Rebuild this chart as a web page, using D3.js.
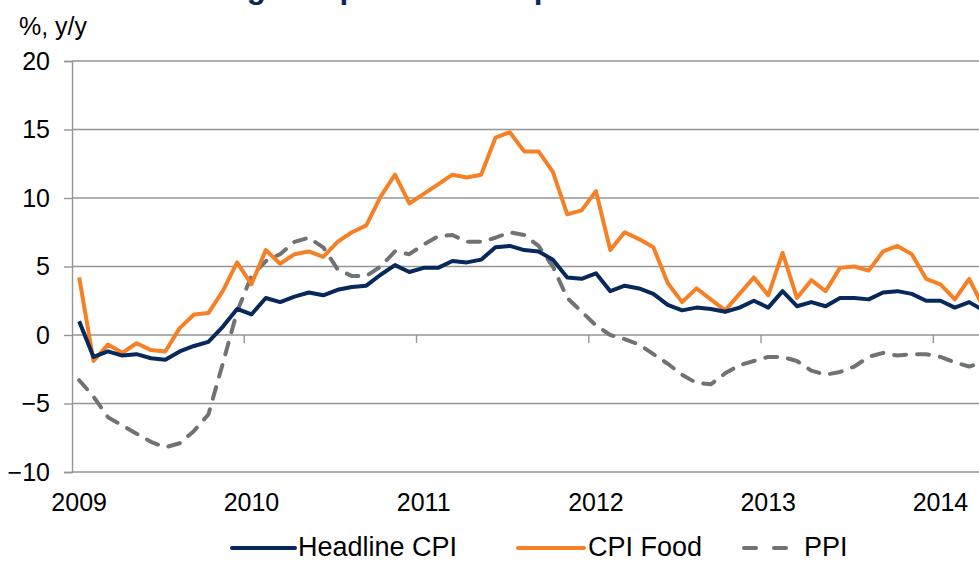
<!DOCTYPE html>
<html>
<head>
<meta charset="utf-8">
<script src="https://cdn.jsdelivr.net/npm/d3@7"></script>
<style>
  html, body { margin: 0; padding: 0; background: #fff; }
  svg { display: block; }
  text { font-family: "Liberation Sans", Arial, sans-serif; }
</style>
</head>
<body>
<div id="chart"></div>
<script>
// Monthly data, Jan 2009 .. Apr 2014 (% y/y)
const years = ['2009', '2010', '2011', '2012', '2013', '2014'];
const monthCount = 64;

const headlineCPI = [
  1.0, -1.6, -1.2, -1.5, -1.4, -1.7, -1.8, -1.2, -0.8, -0.5, 0.6, 1.9,
  1.5, 2.7, 2.4, 2.8, 3.1, 2.9, 3.3, 3.5, 3.6, 4.4, 5.1, 4.6,
  4.9, 4.9, 5.4, 5.3, 5.5, 6.4, 6.5, 6.2, 6.1, 5.5, 4.2, 4.1,
  4.5, 3.2, 3.6, 3.4, 3.0, 2.2, 1.8, 2.0, 1.9, 1.7, 2.0, 2.5,
  2.0, 3.2, 2.1, 2.4, 2.1, 2.7, 2.7, 2.6, 3.1, 3.2, 3.0, 2.5,
  2.5, 2.0, 2.4, 1.8
];

const cpiFood = [
  4.2, -1.9, -0.7, -1.3, -0.6, -1.1, -1.2, 0.5, 1.5, 1.6, 3.2, 5.3,
  3.7, 6.2, 5.2, 5.9, 6.1, 5.7, 6.8, 7.5, 8.0, 10.1, 11.7, 9.6,
  10.3, 11.0, 11.7, 11.5, 11.7, 14.4, 14.8, 13.4, 13.4, 11.9, 8.8, 9.1,
  10.5, 6.2, 7.5, 7.0, 6.4, 3.8, 2.4, 3.4, 2.6, 1.8, 3.0, 4.2,
  2.9, 6.0, 2.7, 4.0, 3.2, 4.9, 5.0, 4.7, 6.1, 6.5, 5.9, 4.1,
  3.7, 2.6, 4.1, 2.0
];

const ppi = [
  -3.3, -4.5, -6.0, -6.6, -7.2, -7.8, -8.2, -7.9, -7.0, -5.8, -2.1, 1.7,
  4.3, 5.4, 5.9, 6.8, 7.1, 6.4, 4.8, 4.3, 4.3, 5.0, 6.1, 5.9,
  6.6, 7.2, 7.3, 6.8, 6.8, 7.1, 7.5, 7.3, 6.5, 5.0, 2.7, 1.7,
  0.7, 0.0, -0.3, -0.7, -1.4, -2.1, -2.9, -3.5, -3.6, -2.8, -2.2, -1.9,
  -1.6, -1.6, -1.9, -2.6, -2.9, -2.7, -2.3, -1.6, -1.3, -1.5, -1.4, -1.4,
  -1.6, -2.0, -2.3, -2.0
];

const yTicks = [-10, -5, 0, 5, 10, 15, 20];

const seriesList = [
  { name: 'Headline CPI', values: headlineCPI, color: '#06285a', dash: null },
  { name: 'CPI Food', values: cpiFood, color: '#f58025', dash: null },
  { name: 'PPI', values: ppi, color: '#707374', dash: '12,11' }
];

const width = 979, height = 561;
const margin = { left: 72, top: 61, bottom: 472 };
const monthWidth = 14.355;
const labelFont = '25px';

const svg = d3.select('#chart').append('svg')
  .attr('width', width)
  .attr('height', height);

// one band per month, Excel style
const months = d3.range(monthCount);
const x = d3.scaleBand()
  .domain(months)
  .range([margin.left, margin.left + monthCount * monthWidth])
  .padding(0);

const y = d3.scaleLinear()
  .domain([-10, 20])
  .range([margin.bottom, margin.top]);

const gridColor = '#959595';

// Title, cut by the top edge: only descenders show
svg.append('text')
  .attr('x', 14)
  .attr('y', -2)
  .attr('fill', '#0b2a5a')
  .style('font-weight', 'bold')
  .style('font-size', '31.5px')
  .text('Inflation is rising and prices at the producer level fall');

// unit label
svg.append('text')
  .attr('x', 19)
  .attr('y', 35)
  .style('font-size', labelFont)
  .attr('fill', '#000')
  .text('%, y/y');

// horizontal gridlines
svg.append('g')
  .selectAll('line')
  .data(yTicks)
  .join('line')
  .attr('x1', margin.left)
  .attr('x2', width + 20)
  .attr('y1', d => y(d))
  .attr('y2', d => y(d))
  .attr('stroke', gridColor)
  .attr('stroke-width', 1.4);

// y axis
const yAxis = svg.append('g')
  .attr('transform', `translate(${margin.left},0)`)
  .call(d3.axisLeft(y).tickValues(yTicks).tickSize(8).tickPadding(14));
yAxis.select('.domain').attr('stroke', gridColor).attr('stroke-width', 1.4);
yAxis.selectAll('.tick line').attr('stroke', gridColor).attr('stroke-width', 1.4);
yAxis.selectAll('.tick text')
  .style('font-size', labelFont)
  .style('font-family', '"Liberation Sans", Arial, sans-serif')
  .attr('fill', '#000');

// x axis on the zero line, ticks at year boundaries
const yearStarts = years.map((d, i) => i * 12);
const xAxisG = svg.append('g')
  .attr('transform', `translate(0,${y(0)})`);
xAxisG.selectAll('line')
  .data(yearStarts.slice(1))
  .join('line')
  .attr('x1', d => x(d))
  .attr('x2', d => x(d))
  .attr('y1', 0)
  .attr('y2', 8)
  .attr('stroke', gridColor)
  .attr('stroke-width', 1.4);

// year labels under the plot, centred on January
svg.append('g')
  .selectAll('text')
  .data(years)
  .join('text')
  .attr('x', (d, i) => x(i * 12) + x.bandwidth() / 2)
  .attr('y', 511)
  .attr('text-anchor', 'middle')
  .style('font-size', labelFont)
  .attr('fill', '#000')
  .text(d => d);

// lines
const line = d3.line()
  .x((d, i) => x(i) + x.bandwidth() / 2)
  .y(d => y(d));

// PPI first, then food, headline on top
[seriesList[2], seriesList[1], seriesList[0]].forEach(s => {
  svg.append('path')
    .datum(s.values)
    .attr('d', line)
    .attr('fill', 'none')
    .attr('stroke', s.color)
    .attr('stroke-width', 4)
    .attr('stroke-linejoin', 'round')
    .attr('stroke-linecap', s.dash ? 'round' : 'butt')
    .attr('stroke-dasharray', s.dash);
});

// legend
const legendItems = [
  { s: seriesList[0], x1: 232, x2: 295, tx: 298 },
  { s: seriesList[1], x1: 518, x2: 584, tx: 588 },
  { s: seriesList[2], x1: 744, x2: 796, tx: 804 }
];
const legendY = 548;
const lg = svg.append('g');
legendItems.forEach(it => {
  lg.append('line')
    .attr('x1', it.x1)
    .attr('x2', it.x2)
    .attr('y1', legendY)
    .attr('y2', legendY)
    .attr('stroke', it.s.color)
    .attr('stroke-width', 4)
    .attr('stroke-linecap', 'round')
    .attr('stroke-dasharray', it.s.dash ? '12,18' : null);
  lg.append('text')
    .attr('x', it.tx)
    .attr('y', legendY + 8)
    .style('font-size', '27px')
    .attr('fill', '#000')
    .text(it.s.name);
});
</script>
</body>
</html>
